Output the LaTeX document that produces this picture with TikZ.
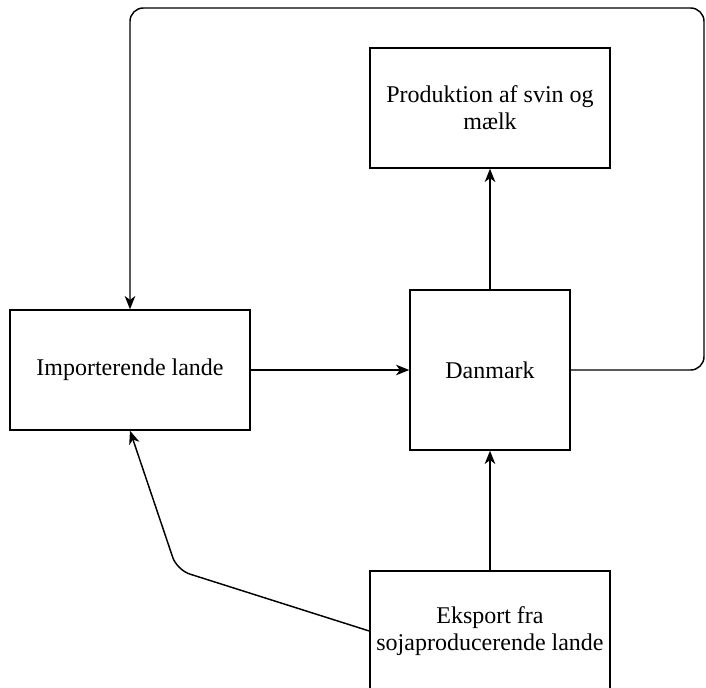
\documentclass[tikz,border=0pt]{standalone}
\usepackage{fontspec}
\setmainfont{Liberation Serif}
\usetikzlibrary{arrows.meta}

\begin{document}
\begin{tikzpicture}[x=0.75pt,y=-0.75pt,
  box/.style={draw,line width=1.1pt,minimum width=180pt,minimum height=90pt,align=center,font=\fontsize{18}{20.5}\selectfont},
  flow/.style={line width=1.1pt,-{Stealth[length=10pt,width=8pt,inset=3pt]}}]
\clip (0,0) rectangle (706,688);
\node[box] (prod) at (490,108) {Produktion af svin og\\mælk};
\node[box] (imp) at (130,370) {Importerende lande};
\node[box,minimum width=120pt,minimum height=120pt] (dk) at (490,370) {Danmark};
\node[box] (eks) at (490,631) {Eksport fra\\sojaproducerende lande};
\draw[flow] (dk) -- (prod);
\draw[flow] (imp) -- (dk);
\draw[flow] (eks) -- (dk);
\draw[flow,rounded corners=10pt] (eks.west) -- (177,570) -- (imp.south);
\draw[flow,rounded corners=10pt] (dk.east) -- (704,370) -- (704,8) -- (130,8) -- (imp.north);
\end{tikzpicture}
\end{document}
